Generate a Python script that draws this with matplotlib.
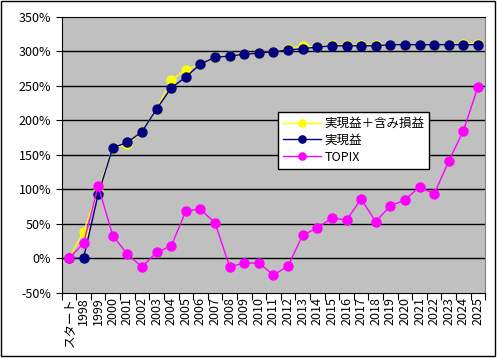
import matplotlib
matplotlib.use("Agg")
import matplotlib.pyplot as plt
import matplotlib.patches as patches

plt.rcParams['font.family'] = ['Noto Sans CJK JP', 'DejaVu Sans']

# categories
labels = ["スタート"] + [str(y) for y in range(1998, 2026)]

# 実現益＋含み損益 (%)
total = [0, 38.6, 98, 160.3, 165, 183.5, 216.4, 258, 273.3, 281.6, 291.3, 293.2, 295.6,
         297.5, 299.4, 303, 308, 306.2, 309, 309, 309, 309, 309.6, 309.6, 309.6,
         309.6, 309.6, 311, 311]
# 実現益 (%)
realized = [0, 0, 92.7, 160.3, 168, 183.5, 216.4, 247, 262.8, 281.6, 291.3, 293.2, 295.6,
            297.5, 299.4, 301.9, 303.8, 306.2, 308, 308, 308, 308, 309.6, 309.6, 309.6,
            309.6, 309.6, 309.6, 309.6]
# TOPIX (%)
topix = [0, 21.7, 105, 32.8, 6.2, -12.6, 8.7, 17.8, 68.6, 71.4, 51.2, -12.1, -6.8,
         -6.8, -24.2, -11.2, 33.8, 43.9, 58.4, 55.5, 85.9, 53.1, 76.3, 84.5, 103.8,
         93.2, 141, 185, 248.7]

yticks = [-50, 0, 50, 100, 150, 200, 250, 300, 350]

fig = plt.figure(figsize=(4.97, 3.58), dpi=100)
fig.patch.set_facecolor("white")
# outer border of the chart
fig.patches.append(patches.Rectangle((1 / 497, 2 / 358), 494 / 497, 355 / 358,
                                     transform=fig.transFigure, fill=False,
                                     edgecolor="black", linewidth=1))

ax = fig.add_axes([0.124, 0.182, 0.8525, 0.771])
ax.set_facecolor("#C0C0C0")

x = list(range(len(labels)))
ax.plot(x, total, color="#FFFF00", marker="o", markersize=6.5, linewidth=1,
        label="実現益＋含み損益", zorder=3)
ax.plot(x, realized, color="#000080", marker="o", markersize=6.5, linewidth=1,
        label="実現益", zorder=4)
ax.plot(x, topix, color="#FF00FF", marker="o", markersize=6.5, linewidth=1,
        label="TOPIX", zorder=5)

ax.set_xlim(-0.5, len(labels) - 0.5)
ax.set_ylim(-50, 350)
ax.set_yticks(yticks)
ax.set_yticklabels([f"{v}%" for v in yticks], fontsize=9)
for v in yticks[1:-1]:
    ax.axhline(v, color="black", linewidth=1, zorder=1)

# ticks between categories, labels at centers
ax.set_xticks([i - 0.5 for i in range(len(labels) + 1)])
ax.set_xticklabels([])
ax.set_xticks(x, minor=True)
ax.set_xticklabels(labels, minor=True, rotation=90, fontsize=9)
ax.tick_params(axis="x", which="minor", length=0, pad=3)
ax.tick_params(axis="x", which="major", length=5, direction="out")
ax.tick_params(axis="y", length=4, direction="out")

ax.spines["left"].set_color("black")
ax.spines["bottom"].set_color("black")
ax.spines["top"].set_color("black")
ax.spines["right"].set_color("#808080")

leg = ax.legend(loc="upper left", bbox_to_anchor=(0.511, 0.655), borderaxespad=0,
                fontsize=9, frameon=True, fancybox=False, framealpha=1,
                edgecolor="black", handlelength=3, labelspacing=0.3,
                borderpad=0.4, handletextpad=0.3, markerscale=0.8)
leg.get_frame().set_linewidth(1)

fig.savefig("out.png", dpi=100)
